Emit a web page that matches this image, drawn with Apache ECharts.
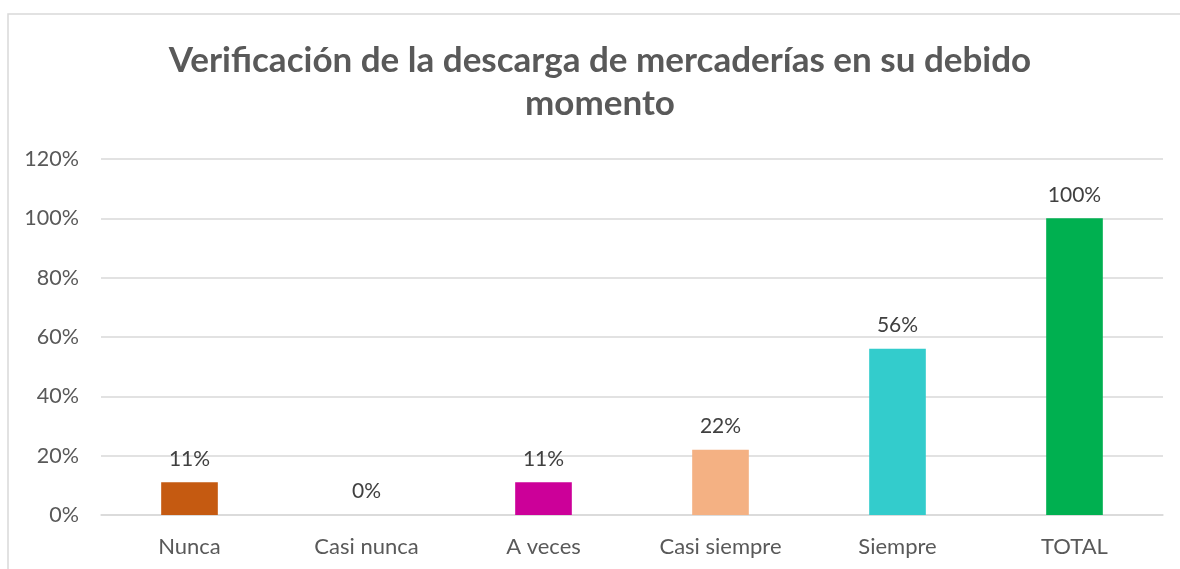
<!DOCTYPE html>
<html>
<head>
<meta charset="utf-8">
<script src="https://cdn.jsdelivr.net/npm/echarts@6/dist/echarts.min.js"></script>
<style>
html,body{margin:0;padding:0;background:#fff;}
#main{width:1180px;height:569px;}
</style>
</head>
<body>
<div id="main"></div>
<script>
var categories=["Nunca","Casi nunca","A veces","Casi siempre","Siempre","TOTAL"];
var values=[11,0,11,22,56,100];
var barColors=["#C55A11","#FF6600","#CC0099","#F4B183","#33CCCC","#00B050"];
var yTicks=[0,20,40,60,80,100,120];
var chartTitle='Verificación de la descarga de mercaderías en su debido\nmomento';

var myChart=echarts.init(document.getElementById('main'));
var ary_data=[];
for(var i=0;i<values.length;i++){
	ary_data.push({value:values[i],itemStyle:{color:barColors[i]}});
}
var option={
	animation:false,
	textStyle:{fontFamily:'Lato, sans-serif'},
	graphic:[{
		type:'rect',
		shape:{x:8,y:14,width:1200,height:600},
		style:{fill:'none',stroke:'#d9d9d9',lineWidth:1.5},
		silent:true
	},{
		type:'text',
		x:600,
		y:39,
		silent:true,
		style:{
			text:chartTitle,
			fill:'#595959',
			font:'bold 35px Lato, sans-serif',
			lineHeight:43,
			align:'center',
			verticalAlign:'top'
		}
	}],
	grid:{left:101,right:17,top:159,bottom:54},
	xAxis:{
		type:'category',
		data:categories,
		axisLine:{lineStyle:{color:'#d9d9d9',width:1.5}},
		axisTick:{show:false},
		axisLabel:{color:'#595959',fontSize:22,margin:21}
	},
	yAxis:{
		type:'value',
		min:yTicks[0],
		max:yTicks[yTicks.length-1],
		interval:20,
		axisLine:{show:false},
		axisTick:{show:false},
		axisLabel:{color:'#595959',fontSize:21.5,margin:22,formatter:'{value}%'},
		splitLine:{lineStyle:{color:'#d9d9d9',width:1.5}}
	},
	series:[{
		type:'bar',
		data:ary_data,
		barWidth:'32%',
		label:{show:true,position:'top',distance:13,color:'#404040',fontSize:21,formatter:'{c}%'}
	}]
};
myChart.setOption(option);
</script>
</body>
</html>
